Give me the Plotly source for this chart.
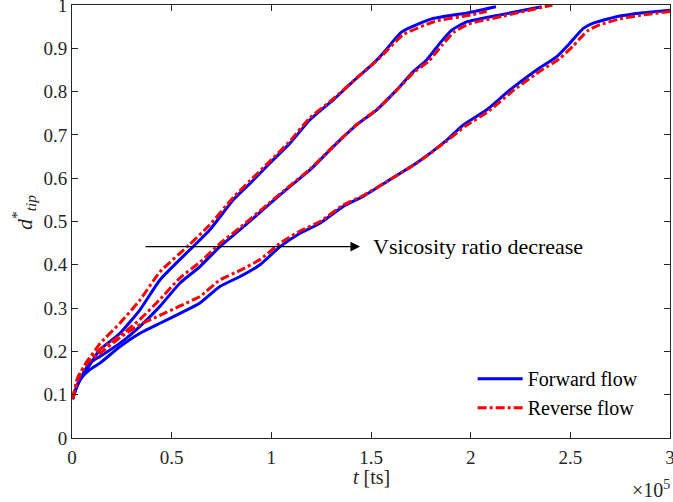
import plotly.graph_objects as go

# time in units of 1e5 ts
tA_fwd = [0.003, 0.0065, 0.032, 0.074, 0.14, 0.241, 0.341, 0.441, 0.592, 0.692, 0.809, 0.893, 0.993, 1.094, 1.194, 1.311, 1.428, 1.512, 1.562, 1.654, 1.811, 1.997, 2.127]
dA_fwd = [0.09, 0.096, 0.127, 0.158, 0.204, 0.242, 0.296, 0.365, 0.435, 0.481, 0.550, 0.588, 0.635, 0.681, 0.735, 0.781, 0.831, 0.865, 0.889, 0.938, 0.969, 0.983, 0.996]
tA_rev = [0.003, 0.03, 0.07, 0.14, 0.24, 0.34, 0.44, 0.59, 0.69, 0.81, 0.89, 0.99, 1.09, 1.19, 1.31, 1.43, 1.51, 1.56, 1.66, 1.82, 2.0, 2.08]
dA_rev = [0.09, 0.135, 0.172, 0.218, 0.265, 0.318, 0.383, 0.447, 0.492, 0.556, 0.593, 0.638, 0.684, 0.738, 0.783, 0.832, 0.864, 0.885, 0.931, 0.962, 0.977, 0.985]

tB_fwd = [0.003, 0.0065, 0.04, 0.09, 0.14, 0.241, 0.341, 0.441, 0.542, 0.642, 0.742, 0.843, 0.977, 1.094, 1.194, 1.311, 1.428, 1.529, 1.629, 1.712, 1.779, 1.846, 1.905, 1.98, 2.147, 2.356]
dB_fwd = [0.09, 0.096, 0.135, 0.174, 0.188, 0.219, 0.258, 0.304, 0.358, 0.396, 0.442, 0.481, 0.535, 0.581, 0.619, 0.673, 0.723, 0.758, 0.804, 0.846, 0.873, 0.912, 0.942, 0.961, 0.977, 0.996]
tB_rev = [0.003, 0.03, 0.08, 0.14, 0.241, 0.341, 0.441, 0.542, 0.642, 0.742, 0.843, 0.977, 1.094, 1.194, 1.311, 1.428, 1.529, 1.629, 1.712, 1.789, 1.856, 1.915, 1.99, 2.16, 2.41]
dB_rev = [0.09, 0.14, 0.18, 0.205, 0.236, 0.274, 0.32, 0.37, 0.406, 0.449, 0.486, 0.538, 0.583, 0.621, 0.674, 0.724, 0.759, 0.803, 0.843, 0.87, 0.907, 0.937, 0.956, 0.974, 1.0]

tC_fwd = [0.003, 0.0065, 0.04, 0.09, 0.14, 0.241, 0.341, 0.441, 0.542, 0.642, 0.742, 0.843, 0.943, 1.044, 1.144, 1.244, 1.361, 1.461, 1.579, 1.729, 1.88, 1.963, 2.081, 2.197, 2.331, 2.432, 2.498, 2.565, 2.615, 2.732, 2.866, 3.0]
dC_fwd = [0.09, 0.096, 0.135, 0.158, 0.173, 0.211, 0.242, 0.265, 0.288, 0.312, 0.35, 0.373, 0.4, 0.442, 0.473, 0.496, 0.535, 0.558, 0.592, 0.635, 0.688, 0.723, 0.758, 0.804, 0.85, 0.881, 0.912, 0.946, 0.958, 0.973, 0.982, 0.988]
tC_rev = [0.003, 0.03, 0.08, 0.14, 0.241, 0.341, 0.441, 0.542, 0.642, 0.742, 0.843, 0.943, 1.044, 1.144, 1.244, 1.361, 1.461, 1.579, 1.729, 1.88, 1.973, 2.091, 2.207, 2.341, 2.445, 2.515, 2.585, 2.64, 2.75, 2.88, 3.0]
dC_rev = [0.09, 0.14, 0.175, 0.195, 0.232, 0.262, 0.283, 0.305, 0.327, 0.365, 0.387, 0.412, 0.45, 0.478, 0.5, 0.538, 0.56, 0.592, 0.635, 0.686, 0.72, 0.755, 0.8, 0.845, 0.876, 0.906, 0.94, 0.953, 0.968, 0.978, 0.985]

x_ticks = [0, 0.5, 1, 1.5, 2, 2.5, 3]
x_ticklabels = ["0", "0.5", "1", "1.5", "2", "2.5", "3"]
y_ticks = [0, 0.1, 0.2, 0.3, 0.4, 0.5, 0.6, 0.7, 0.8, 0.9, 1]
y_ticklabels = ["0", "0.1", "0.2", "0.3", "0.4", "0.5", "0.6", "0.7", "0.8", "0.9", "1"]

FONT = "Liberation Serif"
AX = "#262626"
BLUE = "#0000ff"
RED = "#ff0000"

fig = go.Figure()
pairs = [(tA_fwd, dA_fwd, tA_rev, dA_rev), (tB_fwd, dB_fwd, tB_rev, dB_rev), (tC_fwd, dC_fwd, tC_rev, dC_rev)]
for i, (tf, df, tr, dr) in enumerate(pairs):
    fig.add_trace(go.Scatter(x=tf, y=df, mode="lines", line=dict(color=BLUE, width=3, shape="spline", smoothing=0.5),
                             name="Forward flow", showlegend=(i == 0), legendrank=1))
for i, (tf, df, tr, dr) in enumerate(pairs):
    fig.add_trace(go.Scatter(x=tr, y=dr, mode="lines", line=dict(color=RED, width=3, dash="dashdot", shape="spline", smoothing=0.5),
                             name="Reverse flow", showlegend=(i == 0), legendrank=2))

axis_common = dict(showline=True, linecolor=AX, linewidth=1, mirror="ticks", ticks="inside", ticklen=6,
                   tickcolor=AX, tickwidth=1, showgrid=False, zeroline=False, automargin=False,
                   ticklabeloverflow="allow",
                   tickfont=dict(family=FONT, size=19, color=AX))

fig.update_xaxes(range=[0, 3], tickvals=x_ticks, ticktext=x_ticklabels, ticklabelstandoff=2, **axis_common)
fig.update_yaxes(range=[0, 1], tickvals=y_ticks, ticktext=y_ticklabels, **axis_common)

# axis titles
fig.add_annotation(x=0.5, y=-0.09, xref="paper", yref="paper", text="<i>t</i> [ts]", showarrow=False,
                   xanchor="center", yanchor="middle", font=dict(family=FONT, size=20, color=AX))
fig.add_annotation(x=-0.08, y=0.52, xref="paper", yref="paper", text="<i>d</i><sup>*</sup><sub><i>tip</i></sub>",
                   showarrow=False, textangle=-90, xanchor="center", yanchor="middle",
                   font=dict(family=FONT, size=22, color=AX))
fig.add_annotation(x=1.003, y=-0.118, xref="paper", yref="paper", text="×10<sup>5</sup>", showarrow=False,
                   xanchor="right", yanchor="middle", font=dict(family=FONT, size=20, color=AX))

fig.add_annotation(x=1.445, y=0.442, ax=0.361, ay=0.442, xref="x", yref="y", axref="x", ayref="y",
                   text="", showarrow=True, arrowhead=2, arrowsize=1.6, arrowwidth=1.2, arrowcolor="black")
fig.add_annotation(x=1.50, y=0.442, xref="x", yref="y", text="Vsicosity ratio decrease", showarrow=False,
                   xanchor="left", yanchor="middle", font=dict(family=FONT, size=22, color="black"))

fig.update_layout(
    width=673, height=502,
    margin=dict(l=72, r=3, t=5, b=64),
    paper_bgcolor="white", plot_bgcolor="white",
    legend=dict(x=0.67, y=0.025, xanchor="left", yanchor="bottom", bgcolor="rgba(255,255,255,0)",
                font=dict(family=FONT, size=20, color="black"), tracegroupgap=0, itemwidth=45),
    showlegend=True,
)

fig.write_html("out.html", config={"displayModeBar": False},
               post_script="document.body.style.margin='0';document.body.style.overflow='hidden';")
